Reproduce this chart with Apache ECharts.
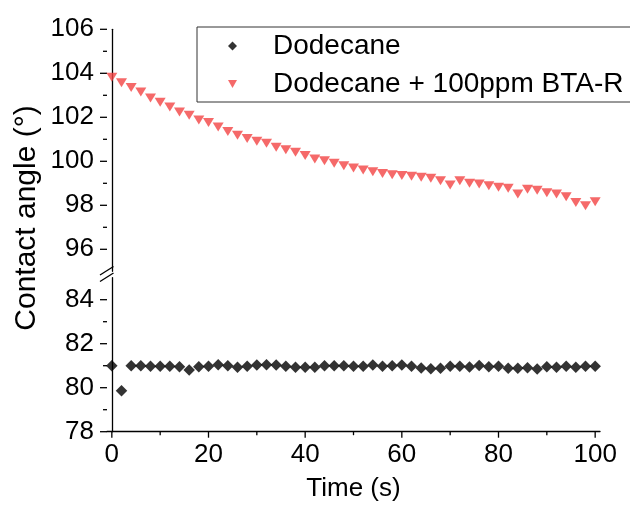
<!DOCTYPE html>
<html>
<head>
<meta charset="utf-8">
<script src="https://cdn.jsdelivr.net/npm/echarts@6/dist/echarts.min.js"></script>
<style>
html,body{margin:0;padding:0;background:#fff;}
#chart{width:630px;height:506px;}
</style>
</head>
<body>
<div id="chart"></div>
<script>
// ---- data ----
const times = [0,2,4,6,8,10,12,14,16,18,20,22,24,26,28,30,32,34,36,38,40,42,44,46,48,50,52,54,56,58,60,62,64,66,68,70,72,74,76,78,80,82,84,86,88,90,92,94,96,98,100];
const dodecane = [81.00,79.86,81.00,81.00,80.97,80.97,80.98,80.95,80.80,80.95,80.98,81.04,81.00,80.93,80.98,81.03,81.04,81.03,80.97,80.93,80.93,80.93,81.00,81.00,81.00,80.98,80.98,81.03,80.98,81.00,81.03,80.98,80.89,80.86,80.88,80.98,80.98,80.94,81.01,80.95,80.97,80.88,80.88,80.91,80.85,80.95,80.93,80.98,80.93,80.98,80.97];
const dodecaneBTA = [103.82,103.57,103.35,103.15,102.88,102.68,102.47,102.24,102.09,101.88,101.76,101.56,101.36,101.18,101.04,100.91,100.82,100.64,100.53,100.41,100.26,100.10,100.03,99.91,99.80,99.70,99.60,99.53,99.45,99.39,99.35,99.32,99.27,99.23,99.12,98.92,99.12,99.00,98.97,98.89,98.82,98.77,98.51,98.73,98.68,98.57,98.51,98.39,98.13,97.98,98.16];
const seriesNames = ['Dodecane', 'Dodecane + 100ppm BTA-R'];
const xTicks = [0,20,40,60,80,100];
const xMinorTicks = [10,30,50,70,90];
const upperTicks = [96,98,100,102,104,106];
const upperMinorTicks = [97,99,101,103,105];
const lowerTicks = [78,80,82,84];
const lowerMinorTicks = [79,81,83];
const xTitle = 'Time (s)';
const yTitle = 'Contact angle (°)';

// ---- chart ----
const FONT = 'Liberation Sans, Arial, sans-serif';
const AX = '#000';
const LW = 1.3;
const chart = echarts.init(document.getElementById('chart'), null, {renderer: 'canvas'});

const X_MIN = -1, X_MAX = 101;
const UP = {min: 95, max: 106};
const LO = {min: 78, max: 85};

function yLabelAx(grid, r, ticks) {
  return {
    type: 'value', gridIndex: grid, min: r.min, max: r.max, position: 'left',
    axisLine: {show: true, lineStyle: {color: AX, width: LW}},
    axisTick: {show: false},
    axisLabel: {show: true, customValues: ticks, fontFamily: FONT, fontSize: 26, color: '#000', margin: 13},
    splitLine: {show: false}
  };
}

const baseGraphic = [
  {type: 'text', x: 27, y: 218, rotation: Math.PI / 2,
   style: {text: yTitle, font: '30px ' + FONT, fill: '#000', align: 'center', verticalAlign: 'middle'}},
  {type: 'line', shape: {x1: 100, y1: 275, x2: 113.5, y2: 266.5}, style: {stroke: '#000', lineWidth: LW}},
  {type: 'line', shape: {x1: 100, y1: 281.5, x2: 113.5, y2: 273}, style: {stroke: '#000', lineWidth: LW}}
];

const option = {
  animation: false,
  backgroundColor: '#fff',
  grid: [
    {left: 107, top: 29.3, width: 493, height: 242},
    {left: 107, top: 277.7, width: 493, height: 154}
  ],
  xAxis: [
    {type: 'value', gridIndex: 0, min: X_MIN, max: X_MAX, show: false},
    {type: 'value', gridIndex: 1, min: X_MIN, max: X_MAX, position: 'bottom',
     name: xTitle, nameLocation: 'middle', nameGap: 44,
     nameTextStyle: {fontFamily: FONT, fontSize: 26, color: '#000'},
     axisLine: {lineStyle: {color: AX, width: LW}},
     axisTick: {show: false},
     axisLabel: {customValues: xTicks, fontFamily: FONT, fontSize: 26, color: '#000', margin: 10},
     splitLine: {show: false}}
  ],
  yAxis: [
    yLabelAx(0, UP, upperTicks),
    yLabelAx(1, LO, lowerTicks)
  ],
  legend: {
    orient: 'vertical', left: 197, top: 27,
    data: [
      {name: seriesNames[0], icon: 'diamond'},
      {name: seriesNames[1], icon: 'path://M0,0L10,0L5,9Z'}
    ],
    borderColor: '#333', borderWidth: 1, borderRadius: 0,
    padding: [5, 40, 4, 31],
    itemGap: 10, itemWidth: 9, itemHeight: 9,
    textStyle: {fontFamily: FONT, fontSize: 28, color: '#000', padding: [0, 0, 0, 31]}
  },
  graphic: baseGraphic,
  series: [
    {name: seriesNames[0], type: 'scatter', xAxisIndex: 1, yAxisIndex: 1,
     symbol: 'diamond', symbolSize: 11.5, itemStyle: {color: '#000'},
     data: times.map((t, i) => [t, dodecane[i]])},
    {name: seriesNames[1], type: 'scatter', xAxisIndex: 0, yAxisIndex: 0,
     symbol: 'triangle', symbolRotate: 180, symbolSize: [11, 9], itemStyle: {color: '#F24444'},
     data: times.map((t, i) => [t, dodecaneBTA[i]])}
  ]
};
chart.setOption(option);

// axis ticks placed through the library's own scales
const tickEls = [];
function addYTicks(axisIdx, vals, len) {
  const x0 = chart.convertToPixel({xAxisIndex: axisIdx}, X_MIN);
  vals.forEach(v => {
    const y = chart.convertToPixel({yAxisIndex: axisIdx}, v);
    tickEls.push({type: 'line', silent: true, shape: {x1: x0 - len, y1: y, x2: x0, y2: y},
      style: {stroke: AX, lineWidth: LW}});
  });
}
function addXTicks(vals, len) {
  const y0 = chart.convertToPixel({yAxisIndex: 1}, LO.min);
  vals.forEach(v => {
    const x = chart.convertToPixel({xAxisIndex: 1}, v);
    tickEls.push({type: 'line', silent: true, shape: {x1: x, y1: y0, x2: x, y2: y0 + len},
      style: {stroke: AX, lineWidth: LW}});
  });
}
addYTicks(0, upperTicks, 7);
addYTicks(0, upperMinorTicks, 4);
addYTicks(1, lowerTicks, 7);
addYTicks(1, lowerMinorTicks, 4);
addXTicks(xTicks, 6);
addXTicks(xMinorTicks, 3.5);
chart.setOption({graphic: baseGraphic.concat(tickEls)});
</script>
</body>
</html>
